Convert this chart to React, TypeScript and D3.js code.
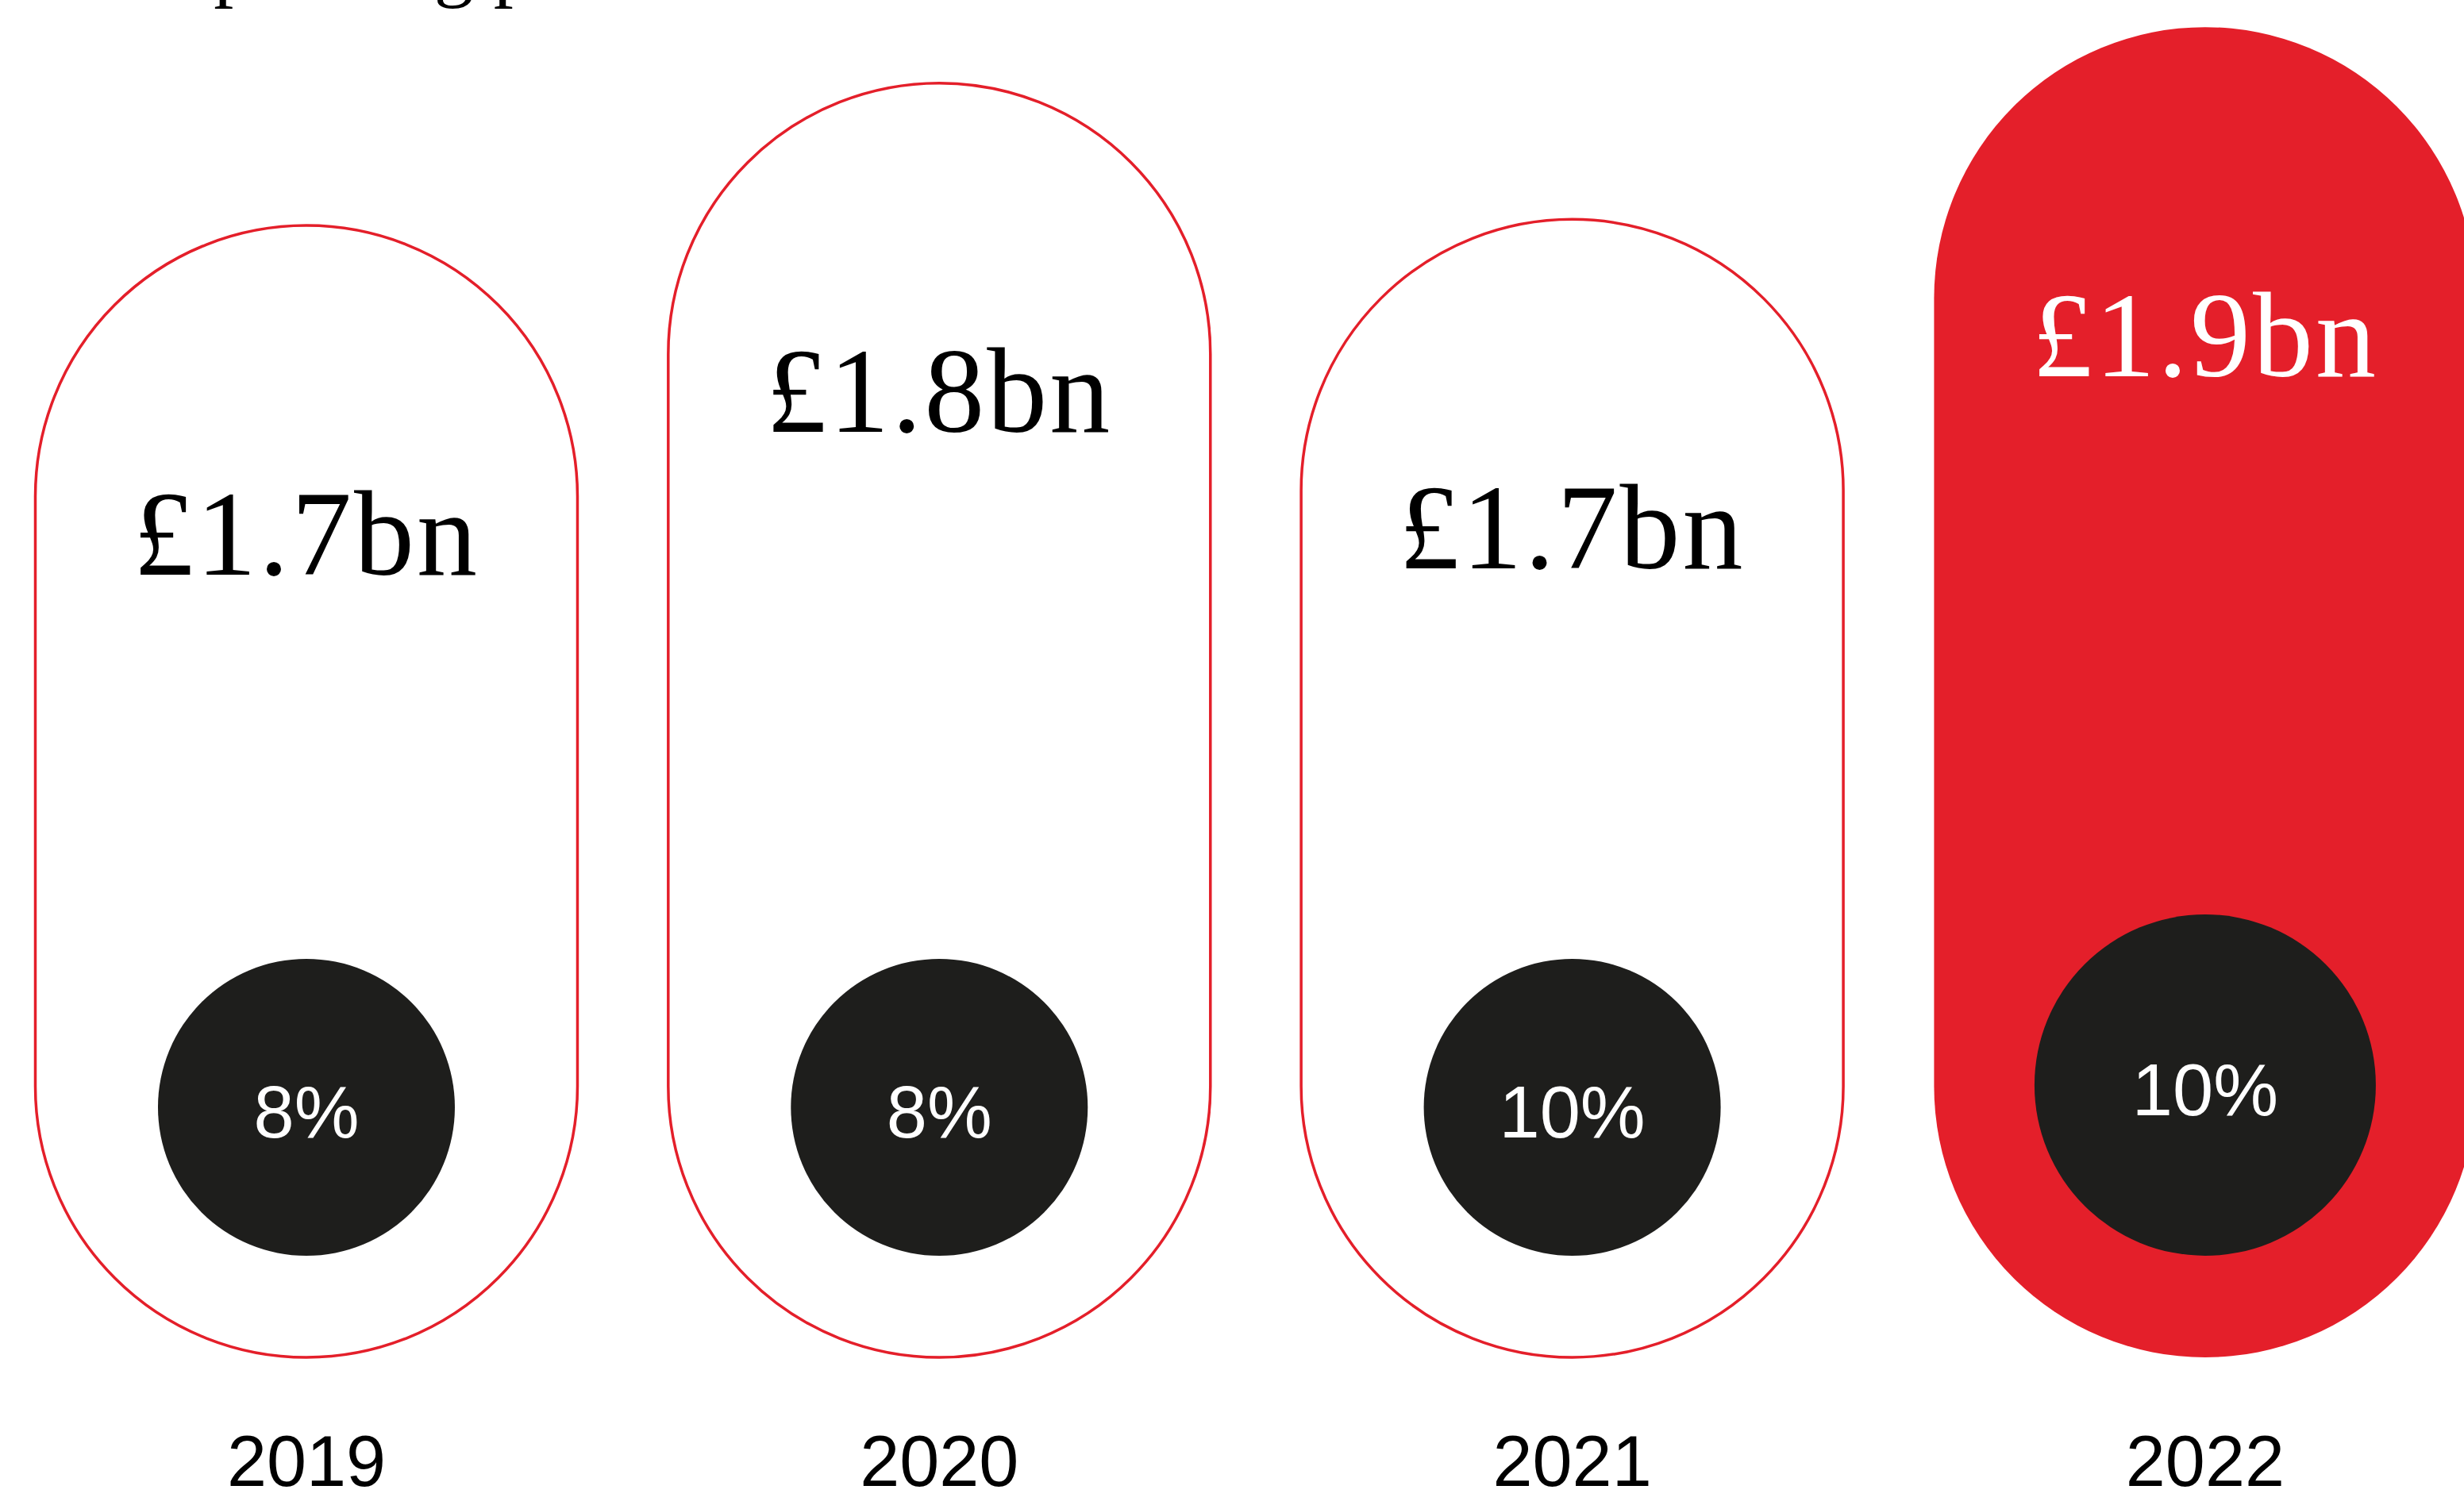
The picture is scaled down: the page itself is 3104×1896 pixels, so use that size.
import { useEffect } from "react";
import * as d3 from "d3";

const years = ["2019", "2020", "2021", "2022"];
const profit = [1.69, 1.83, 1.696, 1.885];
const profitLabels = ["£1.7bn", "£1.8bn", "£1.7bn", "£1.9bn"];
const marginLabels = ["8%", "8%", "10%", "10%"];
const highlight = "2022";

const W = 3104;
const H = 1896;
const RED = "#e41f2a";
const DARK = "#1e1e1c";
const SERIF = "'Liberation Serif', 'Times New Roman', serif";
const SANS = "'Liberation Sans', Arial, Helvetica, sans-serif";

const BASE = 1710;
const CIRCLE_BOTTOM = 1582;

export default function App() {
  useEffect(() => {
    document.body.style.margin = "0";
  }, []);

  const x = d3.scaleBand<string>().domain(years).range([44.5, 3119.4]).paddingInner(0.1434);
  const y = d3.scaleLinear().domain([0.577, 1.9]).range([BASE, 15]);
  const bw = x.bandwidth();
  const r = bw / 2;

  return (
    <svg width={W} height={H} viewBox={`0 0 ${W} ${H}`} style={{ display: "block", background: "#fff" }}>
      {/* title, cut off at the top edge */}
      <text x={197} y={-10} fontFamily={SERIF} fontSize={100} fill="#000">
        Operating profit
      </text>

      {years.map((yr, i) => {
        const x0 = x(yr)!;
        const cx = x0 + r;
        const top = y(profit[i]);
        const hi = yr === highlight;
        const cr = hi ? 215 : 187;
        const cy = CIRCLE_BOTTOM - cr;
        return (
          <g key={yr}>
            <rect
              x={x0}
              y={top}
              width={bw}
              height={BASE - top}
              rx={r}
              ry={r}
              fill={hi ? RED : "#fff"}
              stroke={RED}
              strokeWidth={hi ? 0 : 3.5}
            />
            <text
              x={cx}
              y={top + r + 98}
              textAnchor="middle"
              fontFamily={SERIF}
              fontSize={152}
              letterSpacing={3}
              fill={hi ? "#fff" : "#000"}
            >
              {profitLabels[i]}
            </text>
            <circle cx={cx} cy={cy} r={cr} fill={DARK} />
            <text x={cx} y={cy + 38} textAnchor="middle" fontFamily={SANS} fontSize={92} fill="#fff">
              {marginLabels[i]}
            </text>
            <text x={cx} y={1872} textAnchor="middle" fontFamily={SANS} fontSize={90} fill="#000">
              {yr}
            </text>
          </g>
        );
      })}
    </svg>
  );
}
